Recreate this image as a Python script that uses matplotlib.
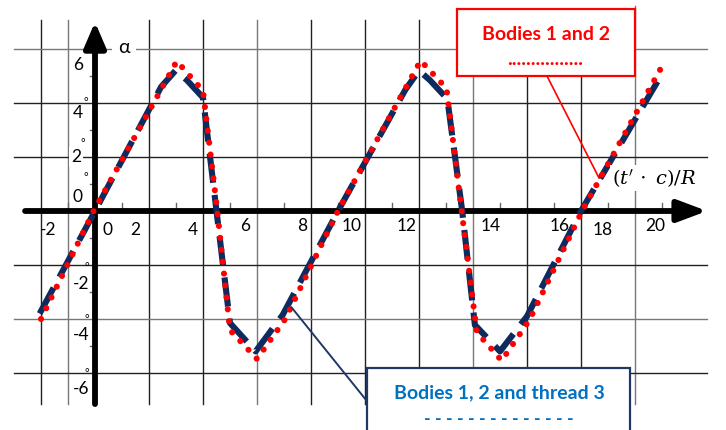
import matplotlib.pyplot as plt
import matplotlib.patches as mpatches

plt.rcParams['font.family'] = ['Lato', 'DejaVu Sans']
plt.rcParams['mathtext.fontset'] = 'dejavuserif'

# red dotted curve: bodies 1 and 2 (vertices)
red_x = [-2.0, -0.05, 3.03, 4.0, 4.53, 5.0, 6.0, 7.04, 9.0, 12.06, 13.02,
         13.58, 14.14, 15.06, 16.09, 18.04, 21.11]
red_y = [-4.0, 0.0, 5.55, 4.45, 0.0, -4.41, -5.48, -4.01, 0.0, 5.57, 4.54,
         0.0, -4.49, -5.54, -4.04, 0.0, 5.56]

# navy dashed curve: bodies 1, 2 and thread 3
blue_x = [-2.05, 0.0, 2.45, 2.98, 3.4, 4.0, 4.5, 5.0, 5.95, 6.95, 9.0,
          11.5, 12.0, 12.4, 13.05, 13.6, 14.07, 15.0, 16.0, 18.0, 21.05]
blue_y = [-3.8, 0.0, 4.6, 5.2, 4.85, 4.2, 0.0, -4.15, -5.2, -3.85, 0.0,
          4.5, 5.2, 4.85, 4.15, 0.0, -4.22, -5.2, -3.9, 0.0, 5.16]

x_ticks = [-2, 0, 2, 4, 6, 8, 10, 12, 14, 16, 18, 20]
y_ticks = [6, 4, 2, 0, -2, -4, -6]

# where each hand placed label sits (axis units)
x_label_pos = [(-1.74, -0.7), (0.48, -0.7), (1.48, -0.7), (3.63, -0.7),
               (5.56, -0.55), (7.69, -0.55), (9.5, -0.55), (11.55, -0.55),
               (14.66, -0.55), (17.2, -0.55), (18.82, -0.7), (20.74, -0.55)]
y_label_pos = [(-0.63, 5.4), (-0.63, 3.63), (-0.7, 2.0), (-0.63, 0.52),
               (-0.52, -2.7), (-0.52, -4.59), (-0.52, -6.59)]
deg_pos = [(-0.33, 5.85), (-0.33, 4.0), (-0.44, 2.48), (-0.33, 1.22),
           (-0.3, -2.1), (-0.3, -4.02), (-0.3, -6.02)]

PX = 27.0  # pixels per axis unit in the original drawing

fig = plt.figure(figsize=(7.26, 4.30), dpi=100)
ax = fig.add_axes([0, 0, 1, 1])
ax.set_xlim(-95 / PX, 631 / PX)
ax.set_ylim(-219 / PX, 211 / PX)
ax.axis('off')

# grid
vgrid = [-2, -1, 2, 4, 6, 8, 10, 12, 14, 16, 18, 20]
grey = [-1, 6, 14, 20]
for gx in vgrid:
    c = '#777777' if gx in grey else '#222222'
    top = 7.6 if gx == 20 else 7.07
    ax.plot([gx, gx], [-7.15, top], color=c, lw=1.0, zorder=1)
for gy in [6, 4, 2, -2, -4, -6]:
    c = '#777777' if gy in (6, -4) else '#222222'
    ax.plot([-3.0, 22.67], [gy, gy], color=c, lw=1.0, zorder=1)

# small ticks
for t in range(-1, 22, 2):
    ax.plot([t, t], [0, 0.3], color='#666666', lw=1.0, zorder=2)
for t in [-5, -3, -1, 1, 3, 5]:
    ax.plot([-0.2, 0], [t, t], color='#666666', lw=1.0, zorder=2)

# axes with arrows
ax.annotate('', xy=(22.67, 0), xytext=(-2.59, 0), zorder=3,
            arrowprops=dict(arrowstyle='-|>,head_length=0.8,head_width=0.3',
                            lw=4.2, color='black', mutation_scale=22,
                            shrinkA=0, shrinkB=0))
ax.annotate('', xy=(0, 7.0), xytext=(0, -7.15), zorder=3,
            arrowprops=dict(arrowstyle='-|>,head_length=0.7,head_width=0.3',
                            lw=4.2, color='black', mutation_scale=22,
                            shrinkA=0, shrinkB=0))

# curves
ax.plot(blue_x, blue_y, color='#0d2b5e', lw=4.4,
        linestyle=(0, (4.8, 2.0)), dash_capstyle='butt', zorder=4)
ax.plot(red_x, red_y, color='#ff0000', lw=4.4,
        linestyle=(0, (0.01, 1.95)), dash_capstyle='round', zorder=5)

# tick labels
for lab, (px, py) in zip(x_ticks, x_label_pos):
    ax.text(px, py, str(lab), fontsize=12.5, ha='center', va='center', zorder=6)
for lab, (px, py), (dx, dy) in zip(y_ticks, y_label_pos, deg_pos):
    bb = dict(boxstyle='square,pad=0.1', fc='white', ec='none') if lab == 2 else None
    ax.text(px, py, str(lab), fontsize=12.5, ha='center', va='center',
            bbox=bb, zorder=6)
    ax.text(dx, dy, '°', fontsize=8, ha='center', va='center', zorder=6)

ax.text(1.07, 6.07, 'α', fontsize=14, ha='center', va='center', zorder=6,
        bbox=dict(boxstyle='square,pad=0.3', fc='white', ec='none'))
ax.text(20.72, 1.22, r"$(t'\,\cdot\;c)/R$", fontsize=14, ha='center',
        va='center', zorder=6,
        bbox=dict(boxstyle='square,pad=0.1', fc='white', ec='none'))

# callout: bodies 1 and 2
ax.plot([16.74, 18.67], [5.0, 1.22], color='#ff0000', lw=1.2, zorder=7)
ax.add_patch(mpatches.Rectangle((13.41, 5.0), 6.59, 2.48, fc='white',
                                ec='#ff0000', lw=1.6, zorder=8))
ax.text(16.7, 6.52, 'Bodies 1 and 2', color='#ff0000', fontsize=14,
        fontweight='bold', ha='center', va='center', zorder=9)
ax.text(16.68, 5.6, '................', color='#ff0000', fontsize=14,
        fontweight='bold', ha='center', va='center', zorder=9)

# callout: bodies 1, 2 and thread 3
ax.plot([7.28, 10.04], [-3.57, -7.0], color='#1f3864', lw=1.4, zorder=7)
ax.add_patch(mpatches.Rectangle((10.07, -8.6), 9.74, 2.79, fc='white',
                                ec='#1f3864', lw=1.6, zorder=8))
ax.text(14.96, -6.74, 'Bodies 1, 2 and thread 3', color='#0070c0',
        fontsize=14, fontweight='bold', ha='center', va='center', zorder=9)
ax.text(14.96, -7.74, '- - - - - - - - - - - - - -', color='#0070c0',
        fontsize=13, fontweight='bold', ha='center', va='center', zorder=9)

fig.savefig('out.png', dpi=100)
